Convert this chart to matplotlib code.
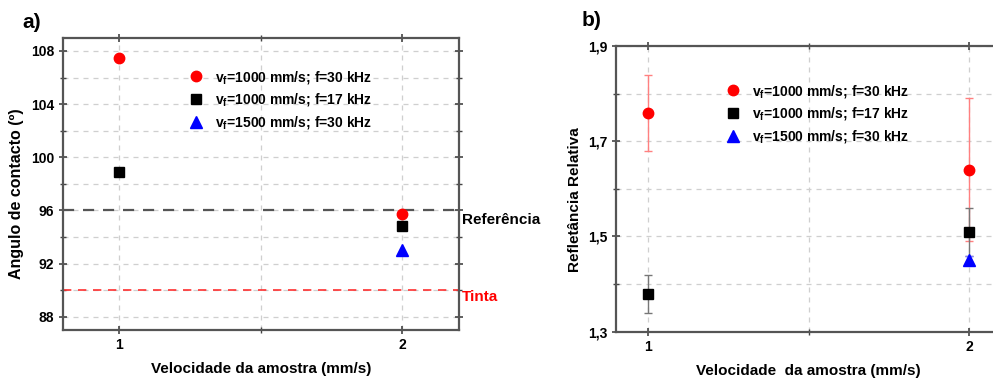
import matplotlib
matplotlib.use("Agg")
import matplotlib.pyplot as plt
from matplotlib.ticker import MultipleLocator, FixedLocator, FuncFormatter

plt.rcParams['font.family'] = ['Liberation Sans', 'DejaVu Sans']
plt.rcParams['font.weight'] = 'bold'
plt.rcParams['mathtext.fontset'] = 'custom'
plt.rcParams['mathtext.rm'] = 'Liberation Sans:bold'
plt.rcParams['mathtext.it'] = 'Liberation Sans:bold'
plt.rcParams['mathtext.bf'] = 'Liberation Sans:bold'

# Series labels
labels = [r'v$_{\rm f}$=1000 mm/s; f=30 kHz',
          r'v$_{\rm f}$=1000 mm/s; f=17 kHz',
          r'v$_{\rm f}$=1500 mm/s; f=30 kHz']

# a) contact angle
angle_x_red = [1, 2]
angle_red = [107.45, 95.75]
angle_x_black = [1, 2]
angle_black = [98.9, 94.8]
angle_x_blue = [2]
angle_blue = [93.0]
angle_reference = 96
angle_ink = 90

# b) relative reflectance
refl_x_red = [1, 2]
refl_red = [1.76, 1.64]
refl_red_err = [0.08, 0.15]
refl_x_black = [1, 2]
refl_black = [1.38, 1.51]
refl_black_err = [0.04, 0.05]
refl_x_blue = [2]
refl_blue = [1.45]
refl_blue_err = [0.01]
refl_major_ticks = [1.3, 1.5, 1.7, 1.9]
refl_minor_ticks = [1.4, 1.6, 1.8]

W, H = 993, 378
fig = plt.figure(figsize=(W / 100, H / 100), dpi=100)

def box(l, t, r, b):
    return [l / W, 1 - b / H, (r - l) / W, (b - t) / H]

spine_c = '#555555'
grid_c = '#cfcfcf'

def style(ax):
    for s in ax.spines.values():
        s.set_color(spine_c)
        s.set_linewidth(1.6)
    ax.tick_params(which='both', direction='inout', top=True, right=True,
                   color='#444444', labelsize=10, pad=3)
    ax.tick_params(which='major', length=6, width=1.2)
    ax.tick_params(which='minor', length=4, width=1.0)
    ax.grid(True, which='both', linestyle=(0, (4, 4)), color=grid_c, linewidth=0.9)
    ax.set_axisbelow(True)
    ax.xaxis.set_major_locator(MultipleLocator(1))
    ax.xaxis.set_minor_locator(MultipleLocator(0.5))
    for lab in ax.get_xticklabels() + ax.get_yticklabels():
        lab.set_fontweight('bold')

# ---- panel a ----
axa = fig.add_axes(box(62.7, 37.7, 459, 330))
axa.set_xlim(0.8, 2.2)
axa.set_ylim(87, 109)
axa.yaxis.set_major_locator(MultipleLocator(4))
axa.yaxis.set_minor_locator(MultipleLocator(2))
style(axa)
axa.axhline(angle_reference, color='#555555', linestyle=(0, (5, 4)), linewidth=1.6, zorder=2)
axa.axhline(angle_ink, color='#ff3030', linestyle=(0, (5, 4)), linewidth=1.2, zorder=2)
ha = []
ha.append(axa.plot(angle_x_red, angle_red, 'o', color='#ff0000', ms=7.5, ls='none', label=labels[0], zorder=4)[0])
ha.append(axa.plot(angle_x_black, angle_black, 's', color='black', ms=6.5, ls='none', label=labels[1], zorder=4)[0])
ha.append(axa.plot(angle_x_blue, angle_blue, '^', color='#0000ff', ms=8, ls='none', label=labels[2], zorder=4)[0])
axa.set_xlabel('Velocidade da amostra (mm/s)', fontsize=11, fontweight='bold', labelpad=7)
axa.set_ylabel('Angulo de contacto (º)', fontsize=11.5, fontweight='bold')
axa.yaxis.set_label_coords(-0.098, 0.465)
axa.text(1.007, angle_reference - 0.2, 'Referência', transform=axa.get_yaxis_transform(),
         ha='left', va='top', fontsize=11, fontweight='bold', color='black')
axa.text(1.007, angle_ink, 'Tinta', transform=axa.get_yaxis_transform(),
         ha='left', va='top', fontsize=11, fontweight='bold', color='#ff0000')
axa.legend(handles=ha, loc='upper left', bbox_to_anchor=(0.287, 0.913), frameon=False,
           fontsize=10, handletextpad=0.4, labelspacing=0.41, borderaxespad=0)
fig.text(22 / W, 1 - 22 / H, 'a)', fontsize=15, fontweight='bold', va='center', ha='left')

# ---- panel b ----
axb = fig.add_axes(box(615.7, 46, 1001.6, 331.7))
axb.set_xlim(0.9, 2.1)
axb.set_ylim(1.3, 1.9)
axb.yaxis.set_major_locator(FixedLocator(refl_major_ticks))
axb.yaxis.set_minor_locator(FixedLocator(refl_minor_ticks))
axb.yaxis.set_major_formatter(FuncFormatter(lambda v, p: f'{v:.1f}'.replace('.', ',')))
style(axb)
axb.errorbar(refl_x_red, refl_red, yerr=refl_red_err, fmt='none', ecolor='#ff8080',
             elinewidth=1.0, capsize=3, capthick=1.0, zorder=3)
axb.errorbar(refl_x_black, refl_black, yerr=refl_black_err, fmt='none', ecolor='#777777',
             elinewidth=1.0, capsize=3, capthick=1.0, zorder=3)
axb.errorbar(refl_x_blue, refl_blue, yerr=refl_blue_err, fmt='none', ecolor='#8080ff',
             elinewidth=1.0, capsize=3, capthick=1.0, zorder=3)
hb = []
hb.append(axb.plot(refl_x_red, refl_red, 'o', color='#ff0000', ms=7.5, ls='none', label=labels[0], zorder=4)[0])
hb.append(axb.plot(refl_x_black, refl_black, 's', color='black', ms=6.5, ls='none', label=labels[1], zorder=4)[0])
hb.append(axb.plot(refl_x_blue, refl_blue, '^', color='#0000ff', ms=8, ls='none', label=labels[2], zorder=4)[0])
axb.set_xlabel('Velocidade  da amostra (mm/s)', fontsize=11, fontweight='bold', labelpad=7)
axb.set_ylabel('Refletância Relativa', fontsize=11, fontweight='bold')
axb.yaxis.set_label_coords(-0.087, 0.464)
axb.legend(handles=hb, loc='upper left', bbox_to_anchor=(0.253, 0.891), frameon=False,
           fontsize=10, handletextpad=0.4, labelspacing=0.41, borderaxespad=0)
fig.text(582 / W, 1 - 20 / H, 'b)', fontsize=15, fontweight='bold', va='center', ha='left')

fig.savefig('out.png', dpi=100)
